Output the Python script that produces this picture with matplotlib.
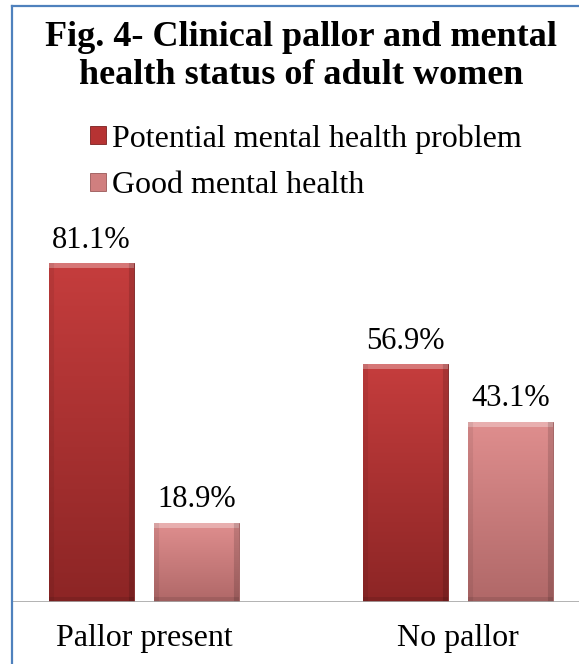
"""
plot.py
-------
Clinical pallor vs mental health status of adult women (grouped bars).
"""

import numpy as np
import matplotlib
matplotlib.use("Agg")
import matplotlib.pyplot as plt
from matplotlib.lines import Line2D

# ---------------------------------------------------------------------------
# Data
# ---------------------------------------------------------------------------

categories = ["Pallor present", "No pallor"]
series_names = ["Potential mental health problem", "Good mental health"]
problem_pct = [81.1, 56.9]
good_pct = [18.9, 43.1]

TITLE_LINES = ["Fig. 4- Clinical pallor and mental",
               "health status of adult women"]

# ---------------------------------------------------------------------------
# Style
# ---------------------------------------------------------------------------

W, H, DPI = 579, 664, 100
FONT = "Liberation Serif"
DARK = ("#C53D3D", "#8C2525", "#B63333")    # top, bottom, legend
LIGHT = ("#DF8E8E", "#B06868", "#D07F7F")
BORDER = "#4F81BD"

plt.rcParams["font.family"] = [FONT, "DejaVu Serif"]


def hex_rgb(c):
    return np.array(matplotlib.colors.to_rgb(c))


def bevel_image(top, bottom, w_px, h_px, bevel=5):
    """Vertical gradient with a light top bevel and darker sides."""
    t = np.linspace(1.0, 0.0, h_px)[:, None, None]
    img = hex_rgb(bottom) + (hex_rgb(top) - hex_rgb(bottom)) * t
    img = np.repeat(img, w_px, axis=1)
    img[:bevel] = img[:bevel] * 0.7 + 0.3
    img[:, :bevel] *= 0.93
    img[:, -bevel:] *= 0.86
    img[-bevel:] *= 0.9
    return np.clip(img, 0, 1)


def px_to_fig(y_px):
    return 1 - y_px / H


def main():
    fig = plt.figure(figsize=(W / DPI, H / DPI), dpi=DPI)

    # axes: spans x=12..579 px, baseline at y=601.7 px
    ax_left, base_px, top_px = 12, 601.7, 200
    ax = fig.add_axes([ax_left / W, px_to_fig(base_px),
                       1 - ax_left / W, (base_px - top_px) / H])

    x = np.arange(len(categories))
    width = 0.268
    offset = 0.167
    bars_p = ax.bar(x - offset, problem_pct, width, color=DARK[2],
                    edgecolor="#7A2020", linewidth=0.6, zorder=2)
    bars_g = ax.bar(x + offset, good_pct, width, color=LIGHT[2],
                    edgecolor="#9A5858", linewidth=0.6, zorder=2)

    ax.set_xlim((ax_left - 144) / 314, (W - 144) / 314)
    ax.set_ylim(0, (base_px - top_px) / 4.176)

    # gradient fill over each bar
    for bars, (top, bottom, _) in ((bars_p, DARK), (bars_g, LIGHT)):
        for b in bars:
            x0, w, h = b.get_x(), b.get_width(), b.get_height()
            p0 = ax.transData.transform((x0, 0))
            p1 = ax.transData.transform((x0 + w, h))
            w_px = max(int(round(p1[0] - p0[0])), 2)
            h_px = max(int(round(p1[1] - p0[1])), 2)
            ax.imshow(bevel_image(top, bottom, w_px, h_px),
                      extent=[x0, x0 + w, 0, h], aspect="auto",
                      origin="upper", zorder=2.5, interpolation="bilinear")
    ax.set_xlim((ax_left - 144) / 314, (W - 144) / 314)
    ax.set_ylim(0, (base_px - top_px) / 4.176)

    # value labels
    for bars in (bars_p, bars_g):
        for b in bars:
            v = b.get_height()
            ax.annotate(f"{v:.1f}%", (b.get_x() + b.get_width() / 2, v),
                        xytext=(0, 11), textcoords="offset points",
                        ha="center", va="baseline", fontsize=22, zorder=4)

    # axes cosmetics
    for s in ax.spines.values():
        s.set_visible(False)
    ax.axhline(0, color="#A6A6A6", linewidth=1.2, zorder=3)
    ax.set_yticks([])
    ax.set_xticks(x)
    ax.set_xticklabels(categories, fontsize=23)
    ax.tick_params(axis="x", length=0, pad=16)

    # title
    fig.text(301 / W, px_to_fig(46), TITLE_LINES[0], ha="center",
             va="baseline", fontsize=26, fontweight="bold")
    fig.text(301 / W, px_to_fig(84), TITLE_LINES[1], ha="center",
             va="baseline", fontsize=26, fontweight="bold")

    # legend
    fig.legend([bars_p, bars_g], series_names, loc="upper left",
               bbox_to_anchor=(90 / W, px_to_fig(124)), frameon=False,
               fontsize=23, handlelength=0.5, handleheight=0.5,
               handletextpad=0.2, labelspacing=0.55, borderpad=0,
               borderaxespad=0)

    # outer frame (left and top edges visible)
    fig.add_artist(Line2D([12 / W, 12 / W], [0, px_to_fig(5.5)],
                          color=BORDER, linewidth=1.6))
    fig.add_artist(Line2D([12 / W, 1], [px_to_fig(5.5), px_to_fig(5.5)],
                          color=BORDER, linewidth=1.6))

    fig.savefig("out.png", dpi=DPI)


if __name__ == "__main__":
    main()
